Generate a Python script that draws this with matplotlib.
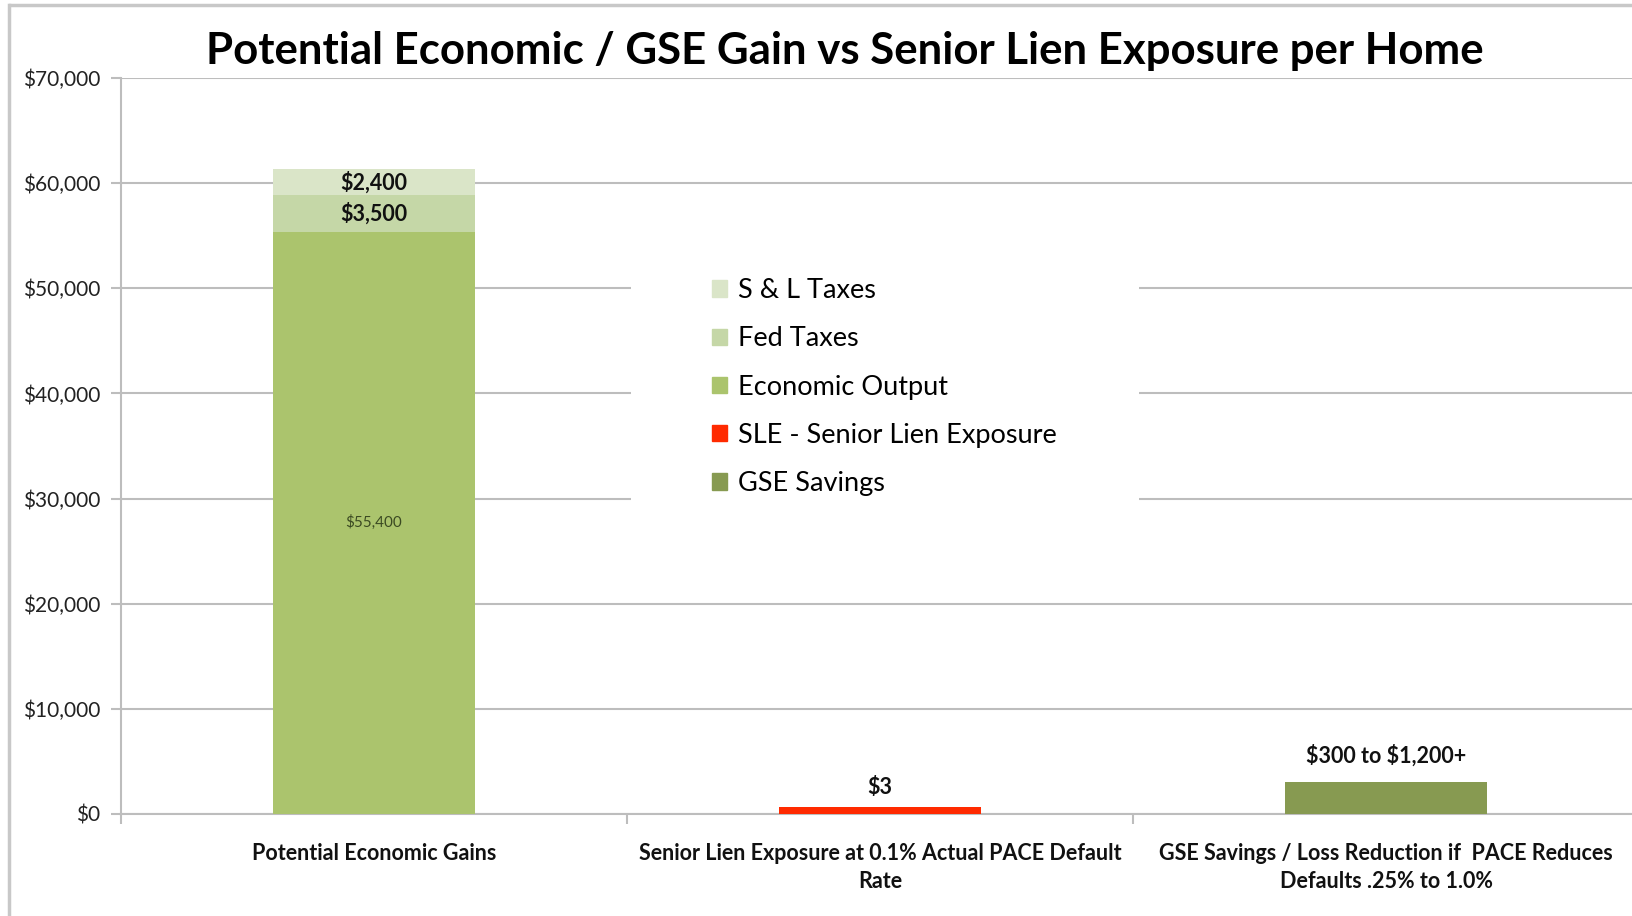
import matplotlib
matplotlib.use("Agg")
import matplotlib.pyplot as plt
from matplotlib.lines import Line2D
from matplotlib.patches import Patch, Rectangle

# ---- data ----
categories = ["Potential Economic Gains",
              "Senior Lien Exposure at 0.1% Actual PACE Default\nRate",
              "GSE Savings / Loss Reduction if  PACE Reduces\nDefaults .25% to 1.0%"]
economic_output = [55400, 0, 0]
fed_taxes = [3500, 0, 0]
sl_taxes = [2400, 0, 0]
sle_exposure = [0, 650, 0]          # drawn height as it appears in the chart
gse_savings = [0, 0, 3000]          # drawn height as it appears in the chart
seg_labels_econ = ["$55,400", "$3,500", "$2,400"]
sle_label = "$3"
gse_label = "$300 to $1,200+"
yticks = [0, 10000, 20000, 30000, 40000, 50000, 60000, 70000]
ytick_labels = ["$0", "$10,000", "$20,000", "$30,000", "$40,000", "$50,000", "$60,000", "$70,000"]
legend_names = ["S & L Taxes", "Fed Taxes", "Economic Output", "SLE - Senior Lien Exposure", "GSE Savings"]


def esc(s):
    return s.replace("$", r"\$")


c_sl = "#dae5c8"
c_fed = "#c5d7a7"
c_econ = "#abc46d"
c_sle = "#ff2a00"
c_gse = "#879a51"
grid_c = "#bdbdbd"

FONT = "Lato"
W, H = 1632, 916
fig = plt.figure(figsize=(W / 100, H / 100), dpi=100)
ax = fig.add_axes([121 / W, 1 - 814 / H, (1639 - 121) / W, (814 - 78) / H])

x = list(range(len(categories)))
bw = 0.4
ax.bar(x, economic_output, bw, color=c_econ, zorder=3)
bottom2 = [a for a in economic_output]
ax.bar(x, fed_taxes, bw, bottom=bottom2, color=c_fed, zorder=3)
bottom3 = [a + b for a, b in zip(economic_output, fed_taxes)]
ax.bar(x, sl_taxes, bw, bottom=bottom3, color=c_sl, zorder=3)
ax.bar(x, sle_exposure, bw, color=c_sle, zorder=3)
ax.bar(x, gse_savings, bw, color=c_gse, zorder=3)

# segment labels
ax.text(0, economic_output[0] / 2, esc(seg_labels_econ[0]), ha="center", va="center",
        fontsize=11, color="#3b4a22", family=FONT, zorder=4)
ax.text(0, economic_output[0] + fed_taxes[0] / 2, esc(seg_labels_econ[1]), ha="center", va="center",
        fontsize=15.5, fontweight="bold", color="#111111", family=FONT, zorder=4)
ax.text(0, bottom3[0] + sl_taxes[0] / 2, esc(seg_labels_econ[2]), ha="center", va="center",
        fontsize=15.5, fontweight="bold", color="#111111", family=FONT, zorder=4)
ax.annotate(esc(sle_label), (1, sle_exposure[1]), xytext=(0, 20), textcoords="offset pixels",
            ha="center", va="center", fontsize=15.5, fontweight="bold", family=FONT, color="#111111")
ax.annotate(esc(gse_label), (2, gse_savings[2]), xytext=(0, 27), textcoords="offset pixels",
            ha="center", va="center", fontsize=15.5, fontweight="bold", family=FONT, color="#111111")

ax.set_xlim(-0.5, 2.5)
ax.set_ylim(0, 70000)
ax.set_yticks(yticks)
ax.set_yticklabels([esc(t) for t in ytick_labels], family=FONT, fontsize=15, color="#222222")
ax.set_xticks(x)
ax.set_xticklabels(categories, family=FONT, fontsize=15.5, fontweight="bold", color="#111111",
                   linespacing=1.42)
ax.set_xticks([-0.5, 0.5, 1.5, 2.5], minor=True)
ax.tick_params(axis="x", which="major", length=0, pad=21)
ax.tick_params(axis="x", which="minor", length=7, color=grid_c, width=1.5)
ax.tick_params(axis="y", length=7, color=grid_c, width=1.5, pad=8)
ax.yaxis.grid(True, color=grid_c, linewidth=1.5, zorder=0)
ax.set_axisbelow(True)
for s in ["top", "right"]:
    ax.spines[s].set_visible(False)
for s in ["left", "bottom"]:
    ax.spines[s].set_color(grid_c)
    ax.spines[s].set_linewidth(1.5)

# white legend area (hides gridlines)
fig.add_artist(Rectangle((631 / W, 1 - 535 / H), (1139 - 631) / W, (535 - 240) / H,
                         transform=fig.transFigure, facecolor="white", edgecolor="none", zorder=2))

# legend
handles = [Patch(color=c) for c in [c_sl, c_fed, c_econ, c_sle, c_gse]]
leg = fig.legend(handles, legend_names, loc="upper left",
                 bbox_to_anchor=(712 / W, 1 - 278 / H), frameon=False,
                 prop={"family": FONT, "size": 19.5}, handlelength=0.55, handleheight=0.55,
                 handletextpad=0.4, labelspacing=0.86, borderpad=0,
                 borderaxespad=0)
leg.set_zorder(3)

# title
fig.text(845 / W, 1 - 51 / H, "Potential Economic / GSE Gain vs Senior Lien Exposure per Home",
         ha="center", va="center", fontsize=31.5, fontweight="bold", family=FONT, color="#000000")

# outer border
fig.add_artist(Line2D([10 / W, 1], [1 - 5 / H, 1 - 5 / H], color="#c8c8c8", linewidth=2.5,
                      transform=fig.transFigure))
fig.add_artist(Line2D([9 / W, 9 / W], [0, 1 - 5 / H], color="#c8c8c8", linewidth=2.5,
                      transform=fig.transFigure))

fig.savefig("out.png", dpi=100)
